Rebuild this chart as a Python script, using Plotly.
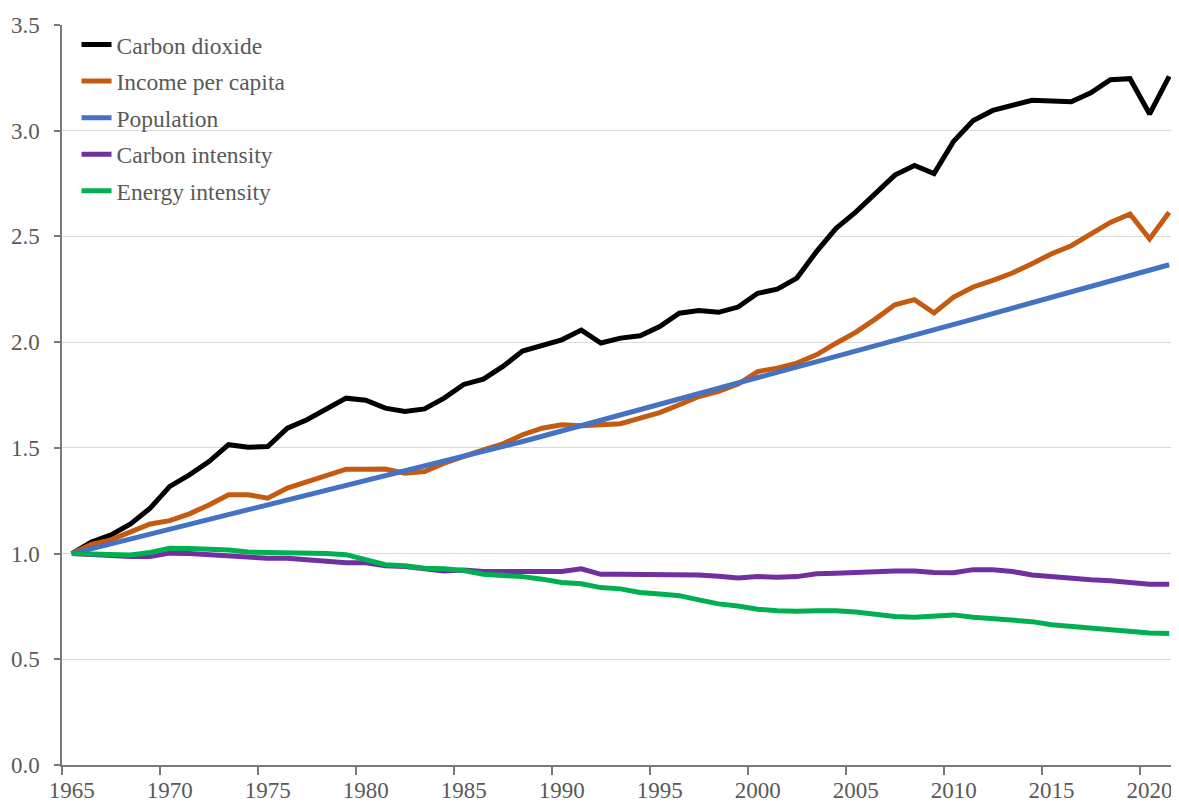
import plotly.graph_objects as go

years = list(range(1965, 2022))

carbon_dioxide = [
    1.000, 1.055, 1.088, 1.140, 1.215, 1.318, 1.372, 1.435, 1.515, 1.503,
    1.506, 1.593, 1.633, 1.683, 1.735, 1.725, 1.688, 1.672, 1.684, 1.735,
    1.800, 1.825, 1.885, 1.958, 1.983, 2.011, 2.057, 1.996, 2.019, 2.030,
    2.074, 2.137, 2.150, 2.141, 2.166, 2.231, 2.251, 2.303, 2.428, 2.538,
    2.615, 2.700, 2.790, 2.836, 2.797, 2.950, 3.048, 3.096, 3.123, 3.144,
    3.140, 3.137, 3.179, 3.241, 3.246, 3.079, 3.257,
]

income_per_capita = [
    1.000, 1.044, 1.065, 1.104, 1.140, 1.156, 1.188, 1.230, 1.278, 1.278,
    1.262, 1.310, 1.341, 1.372, 1.399, 1.399, 1.400, 1.380, 1.388, 1.428,
    1.462, 1.490, 1.519, 1.562, 1.593, 1.609, 1.604, 1.610, 1.614, 1.641,
    1.667, 1.704, 1.743, 1.767, 1.802, 1.861, 1.877, 1.901, 1.940, 1.995,
    2.046, 2.109, 2.177, 2.201, 2.138, 2.213, 2.261, 2.292, 2.327, 2.371,
    2.418, 2.456, 2.513, 2.566, 2.606, 2.488, 2.614,
]

population = [
    1.000, 1.023, 1.046, 1.068, 1.091, 1.114, 1.137, 1.160, 1.182, 1.205,
    1.228, 1.251, 1.274, 1.296, 1.319, 1.342, 1.364, 1.387, 1.410, 1.432,
    1.455, 1.480, 1.505, 1.530, 1.555, 1.580, 1.604, 1.629, 1.654, 1.679,
    1.704, 1.729, 1.754, 1.779, 1.804, 1.829, 1.854, 1.878, 1.903, 1.929,
    1.955, 1.980, 2.006, 2.032, 2.057, 2.083, 2.109, 2.135, 2.160, 2.186,
    2.212, 2.237, 2.263, 2.289, 2.314, 2.340, 2.366,
]

carbon_intensity = [
    1.000, 0.995, 0.992, 0.986, 0.986, 1.002, 1.000, 0.995, 0.989, 0.980,
    0.978, 0.978, 0.970, 0.962, 0.957, 0.957, 0.942, 0.939, 0.931, 0.918,
    0.922, 0.915, 0.915, 0.915, 0.912, 0.915, 0.928, 0.902, 0.902, 0.902,
    0.899, 0.902, 0.899, 0.893, 0.885, 0.891, 0.888, 0.891, 0.905, 0.907,
    0.912, 0.915, 0.917, 0.918, 0.910, 0.909, 0.924, 0.923, 0.915, 0.899,
    0.891, 0.880, 0.876, 0.871, 0.865, 0.855, 0.855,
]

energy_intensity = [
    1.000, 0.996, 0.993, 0.993, 1.005, 1.025, 1.024, 1.020, 1.017, 1.007,
    1.005, 1.007, 1.003, 1.000, 0.995, 0.973, 0.947, 0.942, 0.931, 0.928,
    0.920, 0.902, 0.899, 0.891, 0.879, 0.863, 0.857, 0.839, 0.833, 0.816,
    0.809, 0.801, 0.781, 0.762, 0.752, 0.737, 0.730, 0.727, 0.730, 0.730,
    0.724, 0.715, 0.702, 0.699, 0.702, 0.710, 0.699, 0.691, 0.683, 0.678,
    0.663, 0.655, 0.645, 0.639, 0.633, 0.624, 0.622,
]

series = [
    ("Carbon dioxide", carbon_dioxide, "#000000"),
    ("Income per capita", income_per_capita, "#C55A11"),
    ("Population", population, "#4472C4"),
    ("Carbon intensity", carbon_intensity, "#7030A0"),
    ("Energy intensity", energy_intensity, "#00B050"),
]

x_tick_labels = [str(y) for y in range(1965, 2021, 5)]
x_tick_vals = list(range(1965, 2021, 5))
y_tick_vals = [0.0, 0.5, 1.0, 1.5, 2.0, 2.5, 3.0, 3.5]

FONT = "Liberation Serif, Times New Roman, serif"
TXT = "#595959"

fig = go.Figure()
for name, vals, color in series:
    fig.add_trace(go.Scatter(
        x=years, y=vals, mode="lines", name=name, legendgroup=name,
        line=dict(color=color, width=5),
    ))

# page body has an 8px margin, so the figure is sized to end at the window edge
fig.update_layout(
    width=1171, height=797,
    margin=dict(l=53.5, r=0, t=17, b=40, autoexpand=False),
    paper_bgcolor="white", plot_bgcolor="white",
    font=dict(family=FONT, color=TXT, size=23),
    showlegend=True,
    legend=dict(
        x=0.013, y=1.003, xanchor="left", yanchor="top",
        font=dict(family=FONT, size=23.5, color=TXT),
        bgcolor="rgba(0,0,0,0)", borderwidth=0,
        traceorder="grouped", tracegroupgap=3,
        itemwidth=30,
    ),
    xaxis=dict(
        range=[1964.5, 2021.5], automargin=False,
        tickmode="array", tickvals=x_tick_vals, ticktext=x_tick_labels,
        ticks="", showgrid=False, zeroline=False,
        showline=True, linecolor="#7a7a7a", linewidth=1.5,
        tickfont=dict(family=FONT, size=23, color=TXT),
        ticklabelstandoff=4,
        minor=dict(tick0=1964.5, dtick=5, ticks="outside", ticklen=8,
                   tickcolor="#7a7a7a", tickwidth=1.5, showgrid=False),
    ),
    yaxis=dict(
        range=[0, 3.5], automargin=False,
        tickmode="array", tickvals=y_tick_vals,
        ticktext=[f"{v:.1f}" for v in y_tick_vals],
        ticks="outside", ticklen=6, tickcolor="#7a7a7a", tickwidth=1.5,
        showgrid=True, gridcolor="#d9d9d9", gridwidth=1,
        zeroline=False,
        showline=True, linecolor="#7a7a7a", linewidth=1.5,
        tickfont=dict(family=FONT, size=23, color=TXT),
        ticklabelstandoff=10,
    ),
)

fig.write_html("out.html")
